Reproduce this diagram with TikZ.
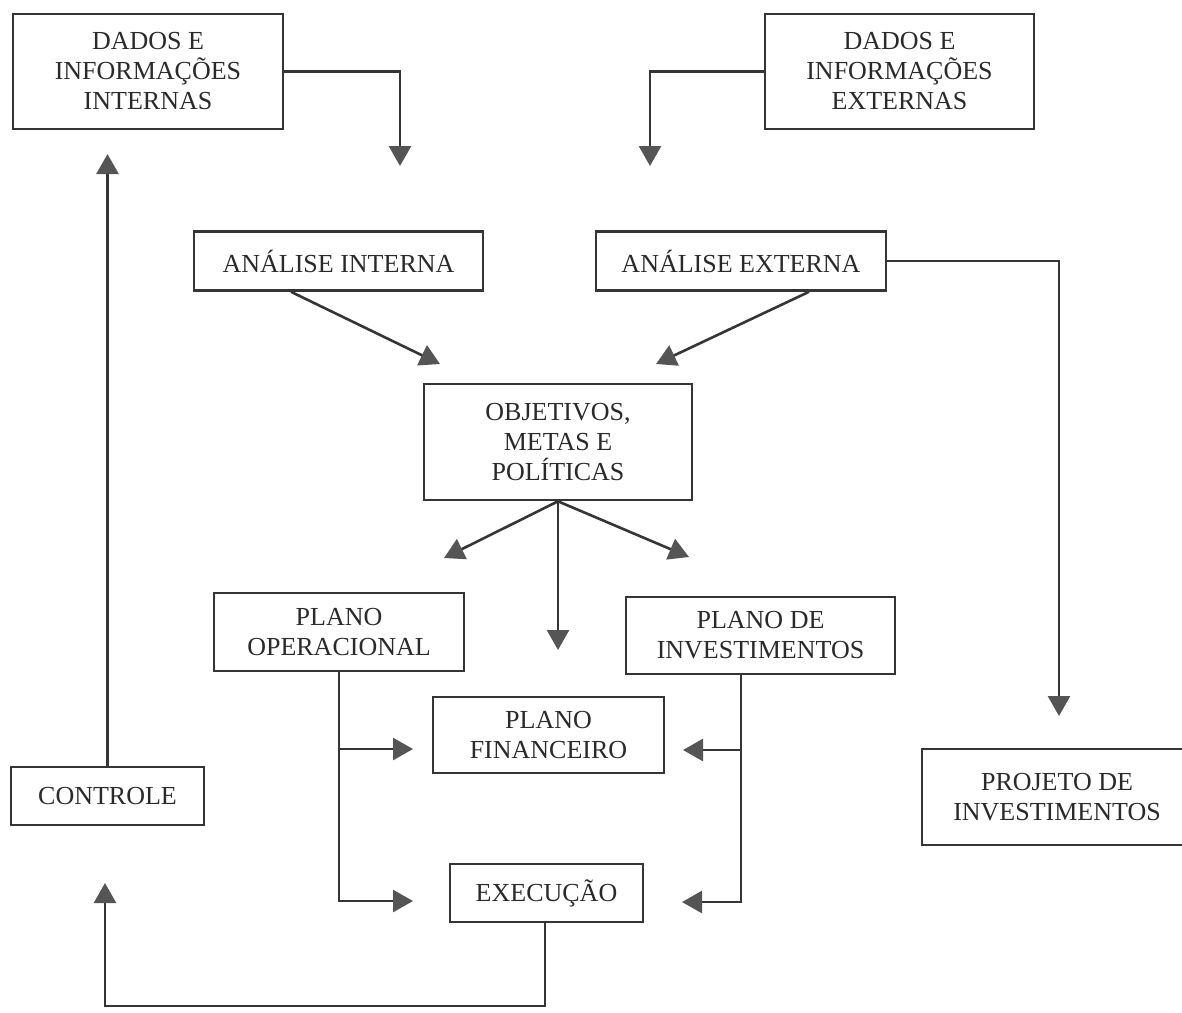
\documentclass[tikz,border=0pt]{standalone}
\usepackage{fontspec}
\setmainfont{Liberation Serif}
\usetikzlibrary{arrows.meta,calc}
\definecolor{linec}{HTML}{353535}
\definecolor{tipc}{HTML}{555555}
\definecolor{textc}{HTML}{2A2A2A}
\begin{document}
\begin{tikzpicture}[x=1pt,y=-1pt,
  box/.style={draw=linec, line width=2.6pt, align=center, inner sep=0pt,
    text=textc, font=\fontsize{26}{30}\selectfont},
  arr/.style={draw=linec, line width=2.6pt,
    -{Triangle[width=22pt,length=20pt,color=tipc]}}]
\useasboundingbox (0,0) rectangle (1182,1012);
\clip (0,0) rectangle (1182,1012);
\fill[white] (0,0) rectangle (1182,1012);

% boxes
\node[box, minimum width=270pt, minimum height=115pt] (dint) at (148,71.5)
  {DADOS E\\INFORMAÇÕES\\INTERNAS};
\node[box, minimum width=269pt, minimum height=115pt] (dext) at (899.5,71.5)
  {DADOS E\\INFORMAÇÕES\\EXTERNAS};
\node[box, minimum width=289pt, minimum height=59pt] (aint) at (338.5,261)
  {ANÁLISE INTERNA};
\node[box, minimum width=290pt, minimum height=59pt] (aext) at (741,261)
  {ANÁLISE EXTERNA};
\node[box, minimum width=268pt, minimum height=116pt] (obj) at (558,442)
  {OBJETIVOS,\\METAS E\\POLÍTICAS};
\node[box, minimum width=250pt, minimum height=78pt] (pop) at (339,632)
  {PLANO\\OPERACIONAL};
\node[box, minimum width=269pt, minimum height=77pt] (pinv) at (760.5,635.5)
  {PLANO DE\\INVESTIMENTOS};
\node[box, minimum width=231pt, minimum height=76pt] (pfin) at (548.5,735)
  {PLANO\\FINANCEIRO};
\node[box, minimum width=193pt, minimum height=58pt] (ctrl) at (107.5,796)
  {CONTROLE};
\node[box, minimum width=193pt, minimum height=58pt] (exec) at (546.5,893)
  {EXECUÇÃO};
\node[box, minimum width=270pt, minimum height=96pt] (proj) at (1057,797)
  {PROJETO DE\\INVESTIMENTOS};

% arrow ends
\coordinate (tDint) at (400,166);
\coordinate (tDext) at (650,166);
\coordinate (tAint) at (440,364);
\coordinate (tAext) at (656,364);
\coordinate (tProj) at (1059,716);
\coordinate (tL) at (444,558);
\coordinate (tM) at (558,650);
\coordinate (tR) at (689,557);
\coordinate (tPopFin) at (413,749);
\coordinate (tPopExe) at (413,901);
\coordinate (pinvDrop) at ([xshift=-19.5pt]pinv.south);
\coordinate (tInvFin) at (683,750);
\coordinate (tInvExe) at (682,902);
\coordinate (exeDrop) at ([xshift=-1.5pt]exec.south);
\coordinate (baseL) at (105,1006);
\coordinate (tCtrl) at (105,883);
\coordinate (tUp) at (107.5,154);

% connectors
\draw[arr] (dint.east) -| (tDint);
\draw[arr] (dext.west) -| (tDext);
\draw[arr] ([xshift=-47.5pt]aint.south) -- (tAint);
\draw[arr] ([xshift=68pt]aext.south) -- (tAext);
\draw[arr] (aext.east) -| (tProj);
\draw[arr] (obj.south) -- (tL);
\draw[arr] (obj.south) -- (tM);
\draw[arr] (obj.south) -- (tR);
\draw[arr] (pop.south) |- (tPopExe);
\draw[arr] (pop.south |- tPopFin) -- (tPopFin);
\draw[arr] (pinvDrop) |- (tInvExe);
\draw[arr] (pinvDrop |- tInvFin) -- (tInvFin);
\draw[arr] (exeDrop) |- (baseL) -- (tCtrl);
\draw[arr] (ctrl.north) -- (tUp);
\end{tikzpicture}
\end{document}
